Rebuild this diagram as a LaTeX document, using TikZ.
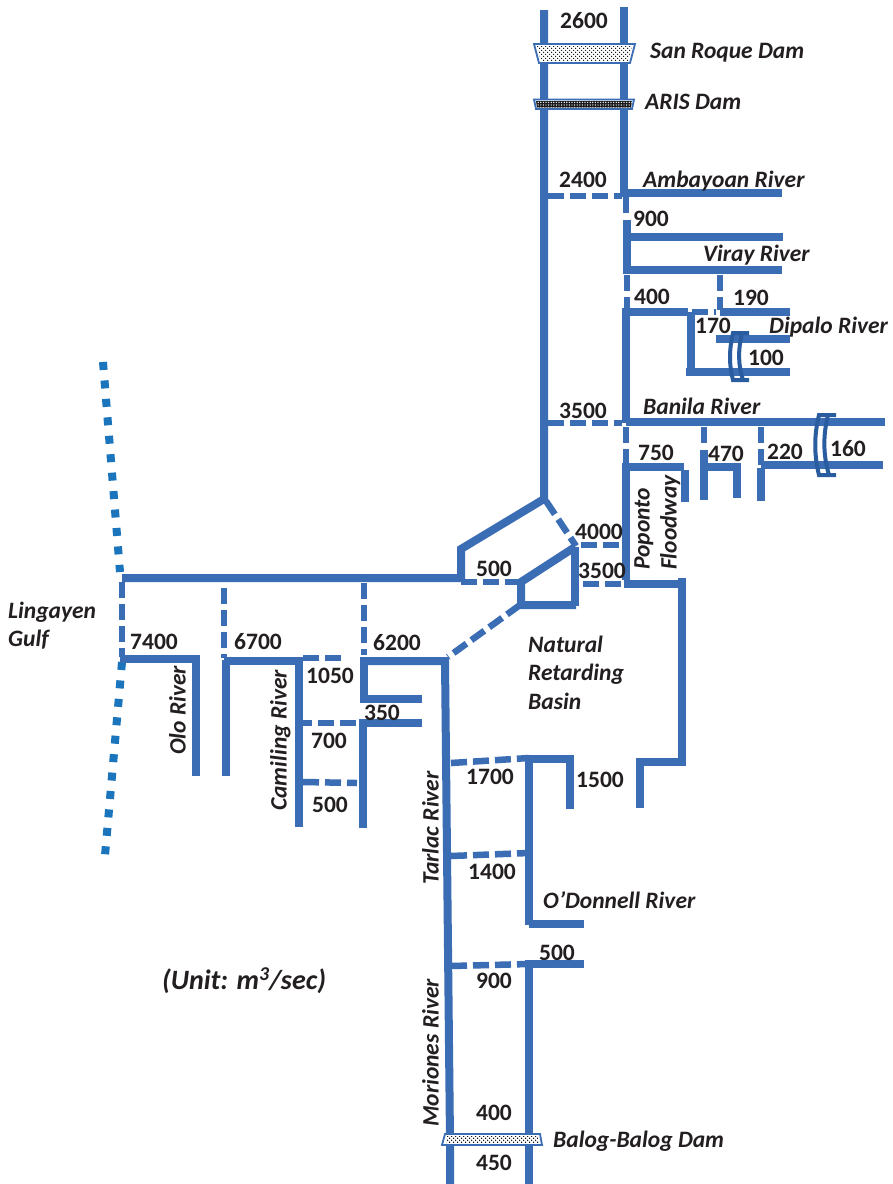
\documentclass[tikz,border=0pt]{standalone}
\usepackage{fontspec}
\setmainfont{Carlito}
\usetikzlibrary{patterns.meta}
\definecolor{riv}{HTML}{3B6DB5}
\definecolor{brg}{HTML}{2A5CA0}
\definecolor{gulf}{HTML}{1B75BC}
\definecolor{ink}{HTML}{231F20}
\tikzset{
  x=1pt,y=-1pt,
  solid river/.style={draw=riv,line width=8pt},
  dash river/.style={draw=riv,line width=6.5pt,dash pattern=on 16pt off 6pt},
  gulf line/.style={draw=gulf,line width=8pt,dash pattern=on 8pt off 10.5pt},
  bridge/.style={draw=brg,line width=4pt},
  dam/.style={draw=riv,line width=1.8pt,fill=white},
  num/.style={text=ink,font=\fontsize{23.5}{23.5}\selectfont\bfseries,inner sep=0pt},
  lab/.style={text=ink,font=\fontsize{23.5}{23.5}\selectfont\bfseries\itshape,inner sep=0pt,anchor=west,text height=20pt,text depth=5pt},
  rlab/.style={text=ink,font=\fontsize{23.5}{23.5}\selectfont\bfseries\itshape,inner sep=0pt,rotate=90,anchor=west,text height=20pt,text depth=5pt},
}
\begin{document}
\begin{tikzpicture}
\useasboundingbox (0,0) rectangle (893,1184);
\fill[white] (0,0) rectangle (893,1184);
% gulf
\draw[gulf line] (103,362) -- (120,572);
\draw[gulf line] (122,662) -- (104.6,860);
% solid rivers
\foreach \p in {
 {(544,10) -- (544,499) -- (461,549) -- (461,578) -- (122,578)},
 {(624,7) -- (624,193) -- (782,193)},
 {(627,237) -- (783,237)},
 {(627,220) -- (627,270) -- (782,270)},
 {(626,423) -- (626,312) -- (688,312)},
 {(691,312) -- (691,368)},
 {(686,372) -- (790,372)},
 {(716,339) -- (790,339)},
 {(720,312) -- (790,312)},
 {(626,422) -- (885,422)},
 {(626,466) -- (626,580)},
 {(622,467) -- (684,467)},
 {(685,470) -- (685,502)},
 {(704,450) -- (704,500) },
 {(704,467) -- (737,467) -- (737,498)},
 {(761,468) -- (761,501)},
 {(761,465) -- (883,465)},
 {(575,547) -- (521,582) -- (521,605) -- (576,605)},
 {(575,547) -- (575,606)},
 {(624,584) -- (682,584)},
 {(682,578) -- (682,762) -- (640,762) -- (640,808)},
 {(360,661) -- (445,661) -- (450,1140) -- (450,1184)},
 {(529,925) -- (529,758)},
 {(584,924) -- (529,924)},
 {(529,1184) -- (529,964) -- (584,964)},
 {(529,759) -- (570,759) -- (570,809)},
 {(120,659) -- (196,659) -- (196,776)},
 {(224,661) -- (299,661) -- (299,827)},
 {(226,660) -- (226,776)},
 {(364,661) -- (364,699)},
 {(360,699) -- (422,699)},
 {(359,723) -- (422,723)},
 {(363,723) -- (363,828)}
}{\draw[solid river] \p;}
% dashed links
\foreach \p in {
 {(548,196) -- (622,196)},
 {(626,197) -- (626,216)},
 {(627,275) -- (627,310)},
 {(692,312) -- (716,312)},
 {(720,275) -- (720,310)},
 {(548,423) -- (622,423)},
 {(626,427) -- (626,464)},
 {(704,427) -- (704,445)},
 {(761,427) -- (761,465)},
 {(546,501) -- (576,546)},
 {(581,545) -- (624,545)},
 {(461,582) -- (519,582)},
 {(583,584) -- (624,584)},
 {(520,605) -- (448,657)},
 {(122,582) -- (122,657)},
 {(224,588) -- (224,658)},
 {(364,583) -- (364,655)},
 {(303,658) -- (341,658)},
 {(296,723) -- (358,723)},
 {(303,782) -- (357,783)},
 {(451,763) -- (529,758)},
 {(451,856) -- (529,853)},
 {(451,966) -- (529,964)}
}{\draw[dash river] \p;}
% bridges
\draw[bridge] (749,333) -- (733,333) .. controls (729,350) and (729,365) .. (733,380) -- (749,380);
\draw[bridge] (742,333) .. controls (738,350) and (738,365) .. (743,380);
\draw[bridge] (836,415) -- (819,415) .. controls (814,435) and (814,455) .. (819,475) -- (836,475);
\draw[bridge] (828,415) .. controls (823,435) and (823,455) .. (829,475);
% dams
\path[dam] (534,44) -- (635,44) -- (630,63) -- (539,63) -- cycle;
\fill[pattern={Dots[distance=4pt,radius=.8pt,angle=0]},pattern color=black] (537,46) -- (632,46) -- (628,61) -- (541,61) -- cycle;
\fill[pattern={Dots[distance=4pt,radius=.8pt,angle=0,xshift=2pt,yshift=2pt]},pattern color=black] (537,46) -- (632,46) -- (628,61) -- (541,61) -- cycle;
\path[dam] (534,99.5) -- (634,99.5) -- (632,109) -- (536,109) -- cycle;
\fill[black!90] (536,101) -- (632,101) -- (631,107.5) -- (537,107.5) -- cycle;
\fill[pattern={Dots[distance=2.6pt,radius=.7pt]},pattern color=white] (536,101) -- (632,101) -- (631,107.5) -- (537,107.5) -- cycle;
\path[dam] (445,1134) -- (540,1134) -- (542,1145) -- (442,1145) -- cycle;
\fill[pattern={Dots[distance=4pt,radius=.85pt]},pattern color=black] (447,1136) -- (538,1136) -- (539,1143) -- (446,1143) -- cycle;
\fill[pattern={Dots[distance=4pt,radius=.85pt,xshift=2pt,yshift=2pt]},pattern color=black] (447,1136) -- (538,1136) -- (539,1143) -- (446,1143) -- cycle;
% numbers
\node[num] (n2600) at (584,21) {2600};
\node[num] (n2400) at (583,180) {2400};
\node[num] (n900) at (651,219) {900};
\node[num] (n400) at (652,297) {400};
\node[num] (n190) at (751,298) {190};
\node[num] (n170) at (713,326) {170};
\node[num] (n100) at (766,358) {100};
\node[num] (n3500a) at (583,411) {3500};
\node[num] (n750) at (656,453) {750};
\node[num] (n470) at (726,454) {470};
\node[num] (n220) at (785,452) {220};
\node[num] (n160) at (848,449) {160};
\node[num] (n4000) at (599,532) {4000};
\node[num] (n3500b) at (602,571) {3500};
\node[num] (n500a) at (494,569) {500};
\node[num] (n7400) at (154,642) {7400};
\node[num] (n6700) at (258,642) {6700};
\node[num] (n6200) at (397,643) {6200};
\node[num] (n1050) at (330,676) {1050};
\node[num] (n350) at (382,713) {350};
\node[num] (n700) at (329,741) {700};
\node[num] (n500b) at (330,805) {500};
\node[num] (n1700) at (490,777) {1700};
\node[num] (n1500) at (600,780) {1500};
\node[num] (n1400) at (492,872) {1400};
\node[num] (n500c) at (557,953) {500};
\node[num] (n900b) at (494,981) {900};
\node[num] (n400b) at (494,1113) {400};
\node[num] (n450) at (494,1163) {450};
% labels
\node[lab] (sr) at (650,51) {San Roque Dam};
\node[lab] (ar) at (645,102) {ARIS Dam};
\node[lab] (am) at (643,180) {Ambayoan River};
\node[lab] (vi) at (703,254) {Viray River};
\node[lab] (di) at (769,326) {Dipalo River};
\node[lab] (ba) at (643,407) {Banila River};
\node[lab] (na) at (528,645) {Natural};
\node[lab] (re) at (528,673) {Retarding};
\node[lab] (bs) at (528,702) {Basin};
\node[lab] (li) at (8,611) {Lingayen};
\node[lab] (gu) at (8,639) {Gulf};
\node[lab] (od) at (543,901) {O’Donnell River};
\node[lab] (ba2) at (553,1140) {Balog-Balog Dam};
\node[lab,anchor=center,font=\fontsize{28}{28}\selectfont\bfseries\itshape] (un) at (244,982) {(Unit: m\textsuperscript{3}/sec)};
\node[rlab] (po) at (642,570) {Poponto};
\node[rlab] (fl) at (669,570) {Floodway};
\node[rlab] (ol) at (178,755) {Olo River};
\node[rlab] (ca) at (279,811) {Camiling River};
\node[rlab] (ta) at (431,885) {Tarlac River};
\node[rlab] (mo) at (431,1127) {Moriones River};
\end{tikzpicture}
\end{document}
